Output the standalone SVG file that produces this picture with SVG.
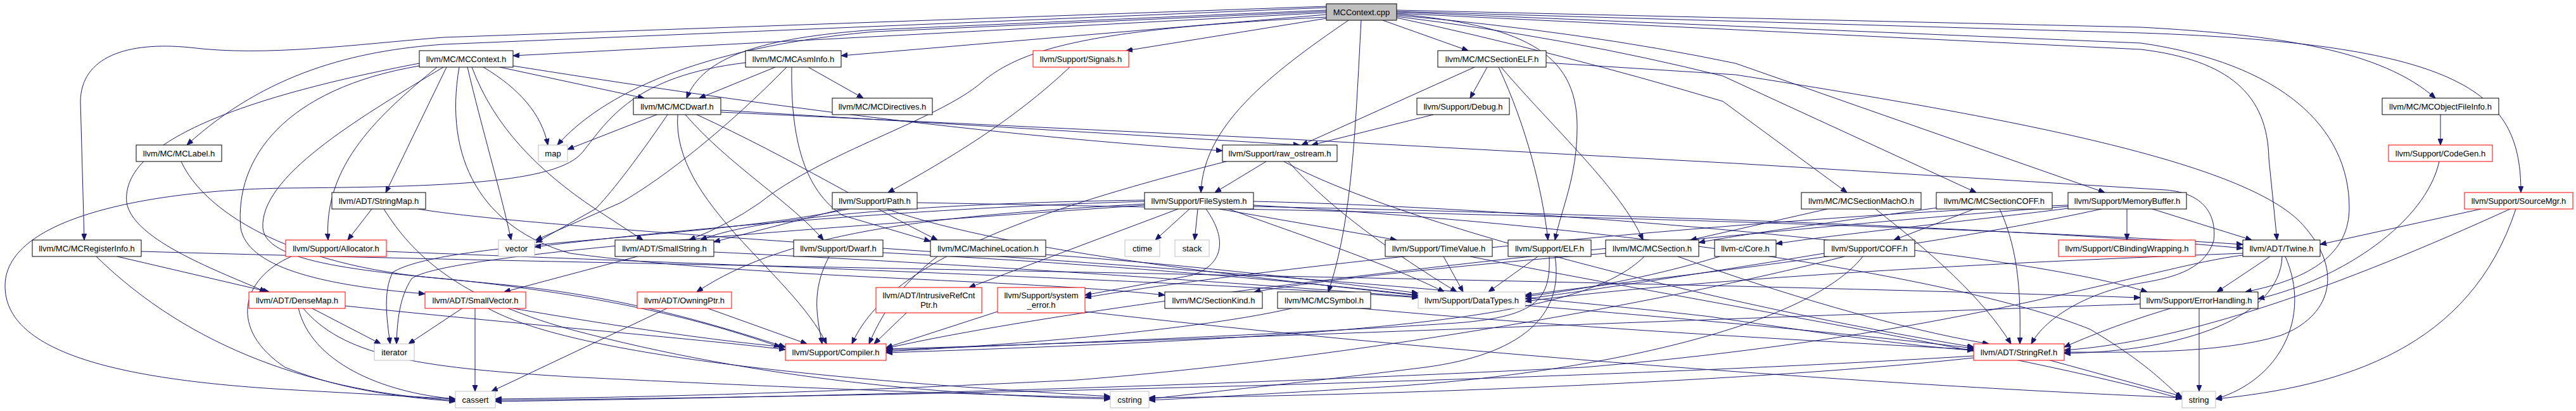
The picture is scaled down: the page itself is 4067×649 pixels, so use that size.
<svg xmlns="http://www.w3.org/2000/svg" width="4067" height="649" viewBox="0 0 4067 649">
<style>
rect{fill:#fff;stroke:#000;stroke-width:1}
.r rect{stroke:#f00}
.g rect{stroke:#bfbfbf}
.root rect{fill:#bfbfbf}
text{font-family:"Liberation Sans",Arial,sans-serif;font-size:13px;text-anchor:middle;fill:#000}
#edges path{fill:none;stroke:#191970;stroke-width:1}
</style>
<defs>
<marker id="a" viewBox="0 0 10 8" refX="10" refY="4" markerWidth="10" markerHeight="8" markerUnits="userSpaceOnUse" orient="auto">
<path d="M0,0 L10,4 L0,8 Z" fill="#191970" stroke="#191970"/>
</marker>
</defs>
<rect x="0" y="0" width="4067" height="649" style="stroke:none;fill:#fff"/>
<g id="edges" marker-end="url(#a)">
<path d="M2094,20 L810,88"/>
<path d="M2094,23 L1328,88"/>
<path d="M2094,29 L1778,80"/>
<path d="M2183,32 L2318,80"/>
<path d="M2094,12 L700,70 C560,80 420,115 295,229"/>
<path d="M2094,10 L700,59 C560,70 420,90 300,75 C200,65 128,90 127,160 L133,379"/>
<path d="M2094,16 L1380,47 C1200,60 1110,90 1084,155"/>
<path d="M2094,18 L1380,50 C1100,75 950,150 880,229"/>
<path d="M2094,27 C1750,45 1620,70 1550,130 C1480,190 1300,240 1200,320 Q1150,355 1088,379"/>
<path d="M2129,32 C2000,120 1900,200 1896,304"/>
<path d="M2149,32 C2140,200 2135,350 2097,461"/>
<path d="M2205,22 C2400,40 2490,80 2490,200 C2490,280 2465,330 2455,379"/>
<path d="M2205,28 Q2450,80 2720,160 L2916,304"/>
<path d="M2205,26 Q2480,60 2720,120 L3120,304"/>
<path d="M2205,24 Q2500,50 2740,100 L3323,304"/>
<path d="M2205,16 L3380,43 C3600,55 3760,80 3845,155"/>
<path d="M2205,18 L3380,52 C3900,70 3980,150 3980,304"/>
<path d="M2205,21 L3380,78 C3520,95 3580,150 3582,250 L3595,379"/>
<path d="M2205,19 L3380,68 C3600,100 3709,200 3709,328 C3709,400 3650,440 3545,461"/>
<path d="M789,106 L1017,155"/>
<path d="M763,106 C820,140 855,180 865,229"/>
<path d="M810,104 C1100,150 1500,210 1930,238"/>
<path d="M738,106 C760,200 790,300 807,379"/>
<path d="M745,106 C780,200 850,270 940,330 L1015,379"/>
<path d="M700,106 C560,190 410,280 415,360 C420,420 600,430 800,450 C1000,470 1150,520 1240,548"/>
<path d="M662,104 C450,140 370,250 380,360 C390,420 500,450 671,464"/>
<path d="M662,100 C400,150 190,220 200,320 C210,380 350,430 420,461"/>
<path d="M705,106 L609,304"/>
<path d="M690,106 C600,180 510,260 518,379"/>
<path d="M725,106 C700,250 760,360 900,400 C1200,440 1600,440 1839,466"/>
<path d="M1276,106 L1363,155"/>
<path d="M1224,106 L1104,155"/>
<path d="M1250,106 C1248,220 1270,300 1330,340 L1469,381"/>
<path d="M1177,99 C1000,120 960,190 920,240 C880,290 700,295 450,297 C250,300 10,340 8,450 C6,560 200,600 450,615 L719,630"/>
<path d="M1242,106 C1150,200 1050,280 980,320 L846,379"/>
<path d="M1689,106 C1600,190 1500,250 1402,304"/>
<path d="M2348,106 L2321,155"/>
<path d="M2328,106 L2055,229"/>
<path d="M2366,106 C2410,200 2435,300 2444,379"/>
<path d="M2370,106 C2450,200 2560,300 2594,379"/>
<path d="M2441,99 L2740,118 C3200,190 3560,260 3640,360 C3700,430 3680,500 3600,530 C3500,560 3350,556 3259,556"/>
<path d="M1037,181 L896,236"/>
<path d="M1054,181 C1000,260 960,310 940,330 L846,383"/>
<path d="M1082,181 C1150,260 1250,320 1300,379"/>
<path d="M1100,181 C1250,250 1380,330 1480,379"/>
<path d="M1070,181 C1060,320 1250,430 1305,543"/>
<path d="M1138,174 L2052,229"/>
<path d="M1138,177 L2040,220 L2740,258 L3420,300 C3480,305 3500,340 3495,380 C3480,430 3420,440 3380,447 C3300,460 3230,500 3207,543"/>
<path d="M2263,181 L2071,229"/>
<path d="M3853,181 L3853,229"/>
<path d="M286,255 C320,330 450,420 700,440 C1000,470 1150,520 1232,548"/>
<path d="M587,330 L549,379"/>
<path d="M606,330 C650,400 720,470 900,520 C1200,600 1500,625 1753,630"/>
<path d="M660,330 C900,370 2000,420 2700,500 C2900,530 3050,550 3116,553"/>
<path d="M1330,330 L1127,382"/>
<path d="M1448,320 C2000,330 3000,350 3541,386"/>
<path d="M1400,330 C1600,400 2000,440 2239,467"/>
<path d="M1340,330 C1100,380 700,380 620,430 C605,460 610,500 616,543"/>
<path d="M1860,330 L1530,454"/>
<path d="M1878,330 L1824,379"/>
<path d="M1891,330 L1886,379"/>
<path d="M1904,330 C1940,380 1930,420 1880,435 L1713,466"/>
<path d="M1925,330 L2205,379"/>
<path d="M1940,330 C2050,370 2200,420 2280,461"/>
<path d="M1979,318 C2500,330 3200,400 3390,461"/>
<path d="M1979,324 C2600,360 3100,440 3300,520 C3400,580 3420,610 3445,628"/>
<path d="M1807,322 C1500,340 1250,360 1100,461"/>
<path d="M1807,316 C1500,320 1200,340 1106,379"/>
<path d="M1979,326 C2600,340 3200,360 3541,392"/>
<path d="M1807,318 C1400,330 1000,370 844,390"/>
<path d="M1807,324 C1300,360 700,400 650,440 C630,470 627,510 626,543"/>
<path d="M2885,330 L2669,379"/>
<path d="M2961,330 C3050,400 3130,470 3175,543"/>
<path d="M3059,328 C2900,350 2750,370 2682,383"/>
<path d="M3117,330 L2990,379"/>
<path d="M3157,330 C3190,400 3190,480 3189,543"/>
<path d="M3265,329 C3100,350 2900,370 2804,385"/>
<path d="M3358,330 L3358,379"/>
<path d="M3398,330 L3555,379"/>
<path d="M3318,330 C3000,400 2600,440 2408,466"/>
<path d="M3265,326 C2800,360 1800,460 1399,550"/>
<path d="M3265,324 C2800,340 2000,420 1713,470"/>
<path d="M3917,330 L3663,386"/>
<path d="M3963,330 C3700,450 3450,540 3259,553"/>
<path d="M3972,330 C3900,550 3700,610 3498,630"/>
<path d="M185,405 L425,461"/>
<path d="M223,397 C1000,420 2500,440 3379,470"/>
<path d="M152,405 C300,550 500,620 719,632"/>
<path d="M610,397 C1200,420 1900,445 2239,470"/>
<path d="M460,405 C380,440 360,520 450,580 C550,620 650,628 719,634"/>
<path d="M1006,405 L796,461"/>
<path d="M1127,398 C1800,430 2700,500 3116,550"/>
<path d="M1309,405 C1280,460 1290,500 1298,543"/>
<path d="M1394,399 C1800,420 2100,450 2239,466"/>
<path d="M1480,405 C1420,450 1390,500 1372,543"/>
<path d="M1651,402 C1900,420 2100,445 2239,463"/>
<path d="M2279,405 L2310,461"/>
<path d="M2321,405 C2700,480 3200,560 3445,630"/>
<path d="M2428,405 L2350,461"/>
<path d="M2446,405 C2448,470 2430,500 2300,510 C2000,530 1600,545 1399,553"/>
<path d="M2455,405 C2470,500 2400,560 2250,580 C2050,605 1900,620 1814,630"/>
<path d="M2535,400 C2300,420 2100,440 1980,461"/>
<path d="M2596,405 C2500,500 2200,530 1399,557"/>
<path d="M2649,405 C2800,460 3000,520 3140,543"/>
<path d="M2715,405 C2600,440 2480,460 2408,468"/>
<path d="M2880,400 C2700,430 2500,460 2408,472"/>
<path d="M2912,405 C2700,460 2200,560 1700,600 C1300,620 1000,628 782,630"/>
<path d="M2941,405 C2850,520 2500,590 2200,610 C2000,622 1900,628 1814,632"/>
<path d="M3584,405 L3500,461"/>
<path d="M3541,400 C3000,420 2600,450 2408,476"/>
<path d="M3541,403 C3400,420 3100,530 2500,580 C1800,615 1200,628 782,634"/>
<path d="M3603,405 C3600,500 3450,555 3259,558"/>
<path d="M3608,405 C3650,500 3600,600 3498,630"/>
<path d="M3430,486 C3350,510 3300,530 3259,548"/>
<path d="M3379,480 C2800,500 1800,540 1399,551"/>
<path d="M3472,487 L3472,618"/>
<path d="M2138,486 C2500,520 2900,540 3116,552"/>
<path d="M2043,486 C1900,520 1600,545 1399,555"/>
<path d="M1431,494 L1380,543"/>
<path d="M1575,492 L1399,549"/>
<path d="M1713,492 C2300,560 3000,610 3445,628"/>
<path d="M1115,486 L1274,543"/>
<path d="M1055,486 L776,618"/>
<path d="M545,483 C800,510 1100,535 1240,552"/>
<path d="M491,486 L601,543"/>
<path d="M471,486 C490,570 600,620 719,630"/>
<path d="M478,486 C540,560 650,580 900,595 C1300,615 1600,625 1753,628"/>
<path d="M731,486 L645,543"/>
<path d="M750,486 L750,618"/>
<path d="M769,486 C900,560 1300,600 1753,626"/>
<path d="M805,486 C1000,520 1150,540 1240,548"/>
<path d="M3233,568 L3445,626"/>
<path d="M3116,562 C2500,600 1500,625 782,632"/>
<path d="M3116,565 C2800,600 2200,625 1814,628"/>
<path d="M1999,255 L1918,304"/>
<path d="M1936,255 C1600,340 1400,420 1345,543"/>
<path d="M2027,255 C2200,350 2700,480 3116,548"/>
<path d="M2034,255 C2100,330 2200,400 2300,461"/>
<path d="M3851,255 C3830,350 3700,440 3565,472"/>
</g>
<g id="root" class="root"><rect x="2094" y="6" width="111" height="26"/><text x="2149.5" y="23.5">MCContext.cpp</text></g>
<g id="ctxh"><rect x="662" y="80" width="148" height="26"/><text x="736" y="97.5">llvm/MC/MCContext.h</text></g>
<g id="asm"><rect x="1177" y="80" width="151" height="26"/><text x="1252.5" y="97.5">llvm/MC/MCAsmInfo.h</text></g>
<g id="sig" class="r"><rect x="1631" y="80" width="151" height="26"/><text x="1706.5" y="97.5">llvm/Support/Signals.h</text></g>
<g id="selfh"><rect x="2270" y="80" width="171" height="26"/><text x="2355.5" y="97.5">llvm/MC/MCSectionELF.h</text></g>
<g id="dw"><rect x="1000" y="155" width="138" height="26"/><text x="1069" y="172.5">llvm/MC/MCDwarf.h</text></g>
<g id="dir"><rect x="1314" y="155" width="158" height="26"/><text x="1393" y="172.5">llvm/MC/MCDirectives.h</text></g>
<g id="dbg"><rect x="2237" y="155" width="146" height="26"/><text x="2310" y="172.5">llvm/Support/Debug.h</text></g>
<g id="ofi"><rect x="3761" y="155" width="184" height="26"/><text x="3853" y="172.5">llvm/MC/MCObjectFileInfo.h</text></g>
<g id="lbl"><rect x="215" y="229" width="135" height="26"/><text x="282.5" y="246.5">llvm/MC/MCLabel.h</text></g>
<g id="map" class="g"><rect x="850" y="229" width="46" height="26"/><text x="873" y="246.5">map</text></g>
<g id="ros"><rect x="1930" y="229" width="181" height="26"/><text x="2020.5" y="246.5">llvm/Support/raw_ostream.h</text></g>
<g id="cg" class="r"><rect x="3771" y="229" width="164" height="26"/><text x="3853" y="246.5">llvm/Support/CodeGen.h</text></g>
<g id="smap"><rect x="524" y="304" width="148" height="26"/><text x="598" y="321.5">llvm/ADT/StringMap.h</text></g>
<g id="path"><rect x="1314" y="304" width="134" height="26"/><text x="1381" y="321.5">llvm/Support/Path.h</text></g>
<g id="fs"><rect x="1807" y="304" width="172" height="26"/><text x="1893" y="321.5">llvm/Support/FileSystem.h</text></g>
<g id="macho"><rect x="2844" y="304" width="189" height="26"/><text x="2938.5" y="321.5">llvm/MC/MCSectionMachO.h</text></g>
<g id="coffs"><rect x="3057" y="304" width="183" height="26"/><text x="3148.5" y="321.5">llvm/MC/MCSectionCOFF.h</text></g>
<g id="mb"><rect x="3265" y="304" width="187" height="26"/><text x="3358.5" y="321.5">llvm/Support/MemoryBuffer.h</text></g>
<g id="sm" class="r"><rect x="3891" y="304" width="171" height="26"/><text x="3976.5" y="321.5">llvm/Support/SourceMgr.h</text></g>
<g id="reg"><rect x="51" y="379" width="172" height="26"/><text x="137" y="396.5">llvm/MC/MCRegisterInfo.h</text></g>
<g id="alloc" class="r"><rect x="451" y="379" width="159" height="26"/><text x="530.5" y="396.5">llvm/Support/Allocator.h</text></g>
<g id="vector" class="g"><rect x="787" y="379" width="57" height="26"/><text x="815.5" y="396.5">vector</text></g>
<g id="sstr"><rect x="971" y="379" width="156" height="26"/><text x="1049" y="396.5">llvm/ADT/SmallString.h</text></g>
<g id="sdw"><rect x="1253" y="379" width="141" height="26"/><text x="1323.5" y="396.5">llvm/Support/Dwarf.h</text></g>
<g id="ml"><rect x="1469" y="379" width="182" height="26"/><text x="1560" y="396.5">llvm/MC/MachineLocation.h</text></g>
<g id="ctime" class="g"><rect x="1776" y="379" width="55" height="26"/><text x="1803.5" y="396.5">ctime</text></g>
<g id="stack" class="g"><rect x="1855" y="379" width="54" height="26"/><text x="1882" y="396.5">stack</text></g>
<g id="tv"><rect x="2187" y="379" width="169" height="26"/><text x="2271.5" y="396.5">llvm/Support/TimeValue.h</text></g>
<g id="elf"><rect x="2381" y="379" width="131" height="26"/><text x="2446.5" y="396.5">llvm/Support/ELF.h</text></g>
<g id="sec"><rect x="2535" y="379" width="147" height="26"/><text x="2608.5" y="396.5">llvm/MC/MCSection.h</text></g>
<g id="core"><rect x="2707" y="379" width="97" height="26"/><text x="2755.5" y="396.5">llvm-c/Core.h</text></g>
<g id="coff"><rect x="2880" y="379" width="143" height="26"/><text x="2951.5" y="396.5">llvm/Support/COFF.h</text></g>
<g id="cbw" class="r"><rect x="3250" y="379" width="216" height="26"/><text x="3358" y="396.5">llvm/Support/CBindingWrapping.h</text></g>
<g id="tw"><rect x="3541" y="379" width="122" height="26"/><text x="3602" y="396.5">llvm/ADT/Twine.h</text></g>
<g id="dm" class="r"><rect x="393" y="461" width="152" height="26"/><text x="469" y="478.5">llvm/ADT/DenseMap.h</text></g>
<g id="sv" class="r"><rect x="671" y="461" width="159" height="26"/><text x="750.5" y="478.5">llvm/ADT/SmallVector.h</text></g>
<g id="op" class="r"><rect x="1006" y="461" width="149" height="26"/><text x="1080.5" y="478.5">llvm/ADT/OwningPtr.h</text></g>
<g id="irc" class="r"><rect x="1383" y="454" width="167" height="40"/><text x="1466.5" y="471">llvm/ADT/IntrusiveRefCnt</text><text x="1466.5" y="486">Ptr.h</text></g>
<g id="se" class="r"><rect x="1575" y="454" width="138" height="40"/><text x="1644" y="471">llvm/Support/system</text><text x="1644" y="486">_error.h</text></g>
<g id="sk"><rect x="1839" y="461" width="154" height="26"/><text x="1916" y="478.5">llvm/MC/SectionKind.h</text></g>
<g id="sym"><rect x="2017" y="461" width="147" height="26"/><text x="2090.5" y="478.5">llvm/MC/MCSymbol.h</text></g>
<g id="dt" class="g"><rect x="2239" y="461" width="169" height="26"/><text x="2323.5" y="478.5">llvm/Support/DataTypes.h</text></g>
<g id="eh"><rect x="3379" y="461" width="186" height="26"/><text x="3472" y="478.5">llvm/Support/ErrorHandling.h</text></g>
<g id="it" class="g"><rect x="591" y="543" width="63" height="26"/><text x="622.5" y="560.5">iterator</text></g>
<g id="cmp" class="r"><rect x="1240" y="543" width="159" height="26"/><text x="1319.5" y="560.5">llvm/Support/Compiler.h</text></g>
<g id="sr" class="r"><rect x="3116" y="543" width="143" height="26"/><text x="3187.5" y="560.5">llvm/ADT/StringRef.h</text></g>
<g id="ca" class="g"><rect x="719" y="618" width="63" height="26"/><text x="750.5" y="635.5">cassert</text></g>
<g id="cs" class="g"><rect x="1753" y="618" width="61" height="26"/><text x="1783.5" y="635.5">cstring</text></g>
<g id="str" class="g"><rect x="3445" y="618" width="53" height="26"/><text x="3471.5" y="635.5">string</text></g>
</svg>
